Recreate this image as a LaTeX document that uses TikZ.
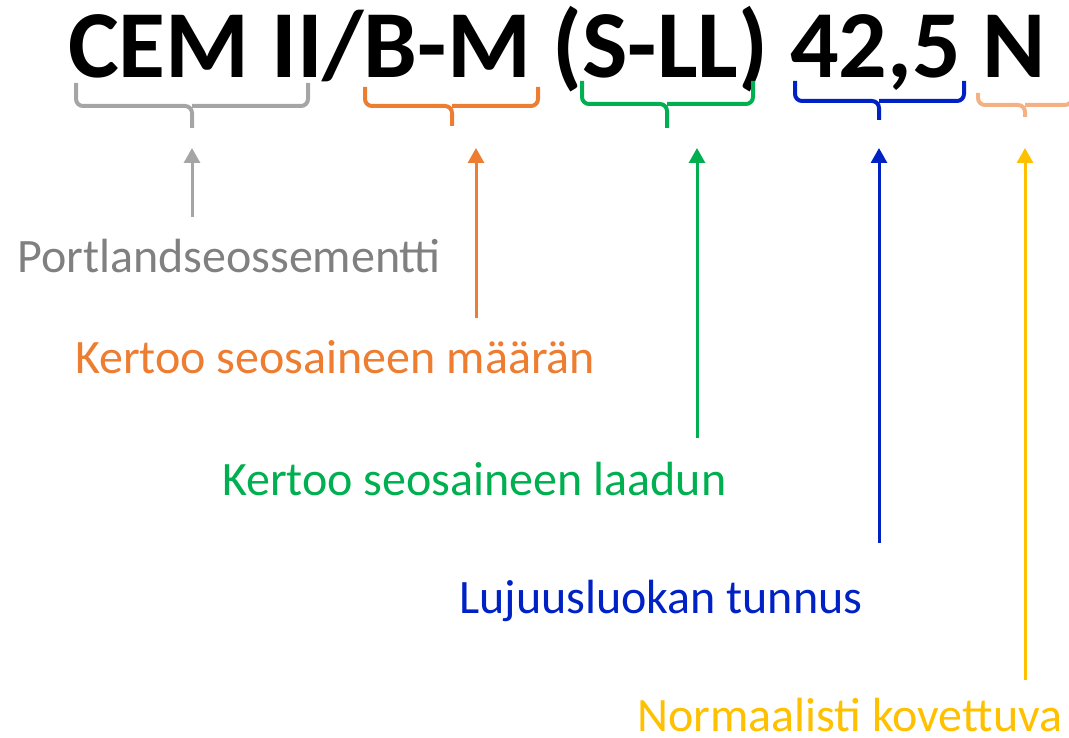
\documentclass[tikz,border=0pt]{standalone}
\usepackage{fontspec}
\setmainfont{Carlito}
\usetikzlibrary{arrows.meta}
\definecolor{cgray}{HTML}{A5A5A5}
\definecolor{tgray}{HTML}{808080}
\definecolor{corange}{HTML}{ED7D31}
\definecolor{cgreen}{HTML}{00B050}
\definecolor{cblue}{HTML}{0021C4}
\definecolor{clight}{HTML}{F4B183}
\definecolor{cyellow}{HTML}{FFC000}
\tikzset{
  title/.style={anchor=base west, inner sep=0pt, font=\fontsize{96}{110}\selectfont\bfseries},
  label/.style={anchor=base west, inner sep=0pt, font=\fontsize{48}{56}\selectfont},
  brace/.style={line width=4pt, rounded corners=7pt},
  pointer/.style={line width=3pt, -{Triangle[width=16pt,length=15pt]}}
}
\begin{document}
\begin{tikzpicture}[x=1pt,y=-1pt]
\useasboundingbox (0,0) rectangle (1069,738);
\begin{scope}
\clip (0,0) rectangle (1069,738);
\node[title] (t) at (68,78) {CEM II/B-M (S-LL) 42,5 N};
% braces
\draw[brace, cgray] (76,83) -- (76,106) -- (192,106) -- (192,128);
\draw[brace, cgray] (308,83) -- (308,106) -- (192,106);
\draw[brace, corange] (365,87) -- (365,106) -- (452,106) -- (452,126);
\draw[brace, corange] (538,87) -- (538,106) -- (452,106);
\draw[brace, cgreen] (582,81) -- (582,104) -- (667,104) -- (667,128);
\draw[brace, cgreen] (753,81) -- (753,104) -- (667,104);
\draw[brace, cblue] (795,81) -- (795,101) -- (879,101) -- (879,120);
\draw[brace, cblue] (964,81) -- (964,101) -- (879,101);
\draw[brace, clight] (978,93) -- (978,105) -- (1025,105) -- (1025,117);
\draw[brace, clight] (1072,93) -- (1072,105) -- (1025,105);
\end{scope}
% labels
\node[label, text=tgray] (l1) at (17,273) {Portlandseossementti};
\node[label, text=corange] (l2) at (75,373) {Kertoo seosaineen määrän};
\node[label, text=cgreen] (l3) at (222,495) {Kertoo seosaineen laadun};
\node[label, text=cblue] (l4) at (459,613) {Lujuusluokan tunnus};
\node[label, text=cyellow] (l5) at (637,731) {Normaalisti kovettuva};
% arrow ends
\coordinate (a1s) at (192,217); \coordinate (a1e) at (192,148);
\coordinate (a2s) at (476,318); \coordinate (a2e) at (476,148);
\coordinate (a3s) at (697,438); \coordinate (a3e) at (697,148);
\coordinate (a4s) at (879,543); \coordinate (a4e) at (879,148);
\coordinate (a5s) at (1025,680); \coordinate (a5e) at (1025,148);
\draw[pointer, cgray] (a1s) -- (a1e);
\draw[pointer, corange] (a2s) -- (a2e);
\draw[pointer, cgreen] (a3s) -- (a3e);
\draw[pointer, cblue] (a4s) -- (a4e);
\draw[pointer, cyellow] (a5s) -- (a5e);
\end{tikzpicture}
\end{document}
